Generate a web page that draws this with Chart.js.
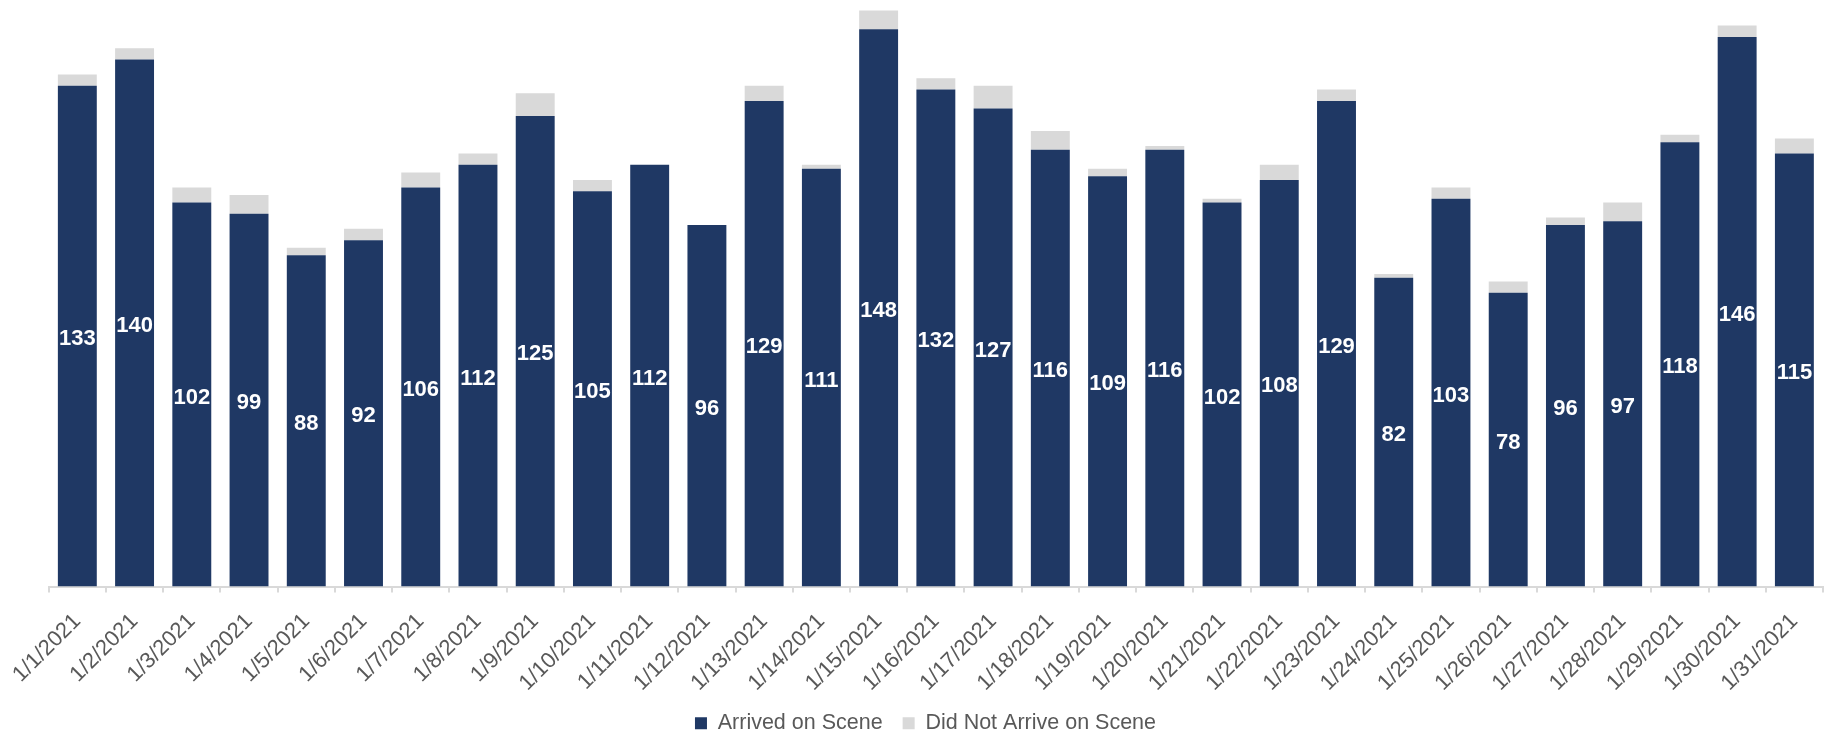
<!DOCTYPE html>
<html lang="en">
<head>
    <meta charset="UTF-8">
    <title>Arrived on Scene - January 2021</title>
    <script src="https://cdn.jsdelivr.net/npm/chart.js"></script>
    <style>
        html, body { margin: 0; padding: 0; background: #fff; }
        #wrap { width: 1832px; height: 731px; position: relative; }
    </style>
</head>
<body>
    <div id="wrap"><canvas id="sceneChart"></canvas></div>

    <script>
        // data
        const days = ['1/1/2021', '1/2/2021', '1/3/2021', '1/4/2021', '1/5/2021', '1/6/2021', '1/7/2021',
            '1/8/2021', '1/9/2021', '1/10/2021', '1/11/2021', '1/12/2021', '1/13/2021', '1/14/2021',
            '1/15/2021', '1/16/2021', '1/17/2021', '1/18/2021', '1/19/2021', '1/20/2021', '1/21/2021',
            '1/22/2021', '1/23/2021', '1/24/2021', '1/25/2021', '1/26/2021', '1/27/2021', '1/28/2021',
            '1/29/2021', '1/30/2021', '1/31/2021'];
        const arrived = [133, 140, 102, 99, 88, 92, 106, 112, 125, 105, 112, 96, 129, 111, 148, 132,
            127, 116, 109, 116, 102, 108, 129, 82, 103, 78, 96, 97, 118, 146, 115];
        const notArrived = [3, 3, 4, 5, 2, 3, 4, 3, 6, 3, 0, 0, 4, 1, 5, 3,
            6, 5, 2, 1, 1, 4, 3, 1, 3, 3, 2, 5, 2, 3, 4];

        const NAVY = '#1F3864';
        const GREY = '#D9D9D9';
        const TEXT = '#595959';
        const FONT = "'Liberation Sans', Arial, sans-serif";

        // white counts in the middle of the navy bars
        const barLabels = {
            id: 'barLabels',
            afterDatasetsDraw(chart) {
                const ctx = chart.ctx;
                const meta = chart.getDatasetMeta(0);
                ctx.save();
                ctx.fillStyle = '#FFFFFF';
                ctx.font = 'bold 22px ' + FONT;
                ctx.textAlign = 'center';
                ctx.textBaseline = 'middle';
                meta.data.forEach((bar, i) => {
                    ctx.fillText(String(arrived[i]), bar.x, (bar.y + bar.base) / 2 + 3);
                });
                ctx.restore();
            }
        };

        // legend sits a little left of centre in the original
        const legendNudge = {
            id: 'legendNudge',
            afterLayout(chart) {
                chart.legend.left -= 10;
                chart.legend.right -= 10;
            }
        };

        new Chart(document.getElementById('sceneChart'), {
            type: 'bar',
            data: {
                labels: days,
                datasets: [
                    {
                        label: 'Arrived on Scene',
                        data: arrived,
                        backgroundColor: NAVY,
                        categoryPercentage: 1,
                        barPercentage: 0.68
                    },
                    {
                        label: 'Did Not Arrive on Scene',
                        data: notArrived,
                        backgroundColor: GREY,
                        categoryPercentage: 1,
                        barPercentage: 0.68
                    }
                ]
            },
            options: {
                responsive: true,
                maintainAspectRatio: false,
                animation: false,
                layout: { padding: { left: 48, right: 9, top: 3, bottom: -13 } },
                plugins: {
                    legend: {
                        position: 'bottom',
                        labels: {
                            boxWidth: 12,
                            boxHeight: 12,
                            padding: 20,
                            color: TEXT,
                            font: { family: FONT, size: 21.5 }
                        }
                    },
                    tooltip: { enabled: false }
                },
                scales: {
                    x: {
                        stacked: true,
                        grid: {
                            display: true,
                            drawOnChartArea: false,
                            drawTicks: true,
                            tickLength: 6,
                            color: GREY,
                            lineWidth: 2
                        },
                        border: { display: true, color: GREY, width: 2 },
                        ticks: {
                            autoSkip: false,
                            maxRotation: 45,
                            minRotation: 45,
                            padding: 16,
                            color: TEXT,
                            font: { family: FONT, size: 22 }
                        },
                        afterFit(scale) { scale.height = 106; }
                    },
                    y: {
                        stacked: true,
                        display: false,
                        min: 0,
                        max: 155
                    }
                }
            },
            plugins: [barLabels, legendNudge]
        });
    </script>
</body>
</html>
